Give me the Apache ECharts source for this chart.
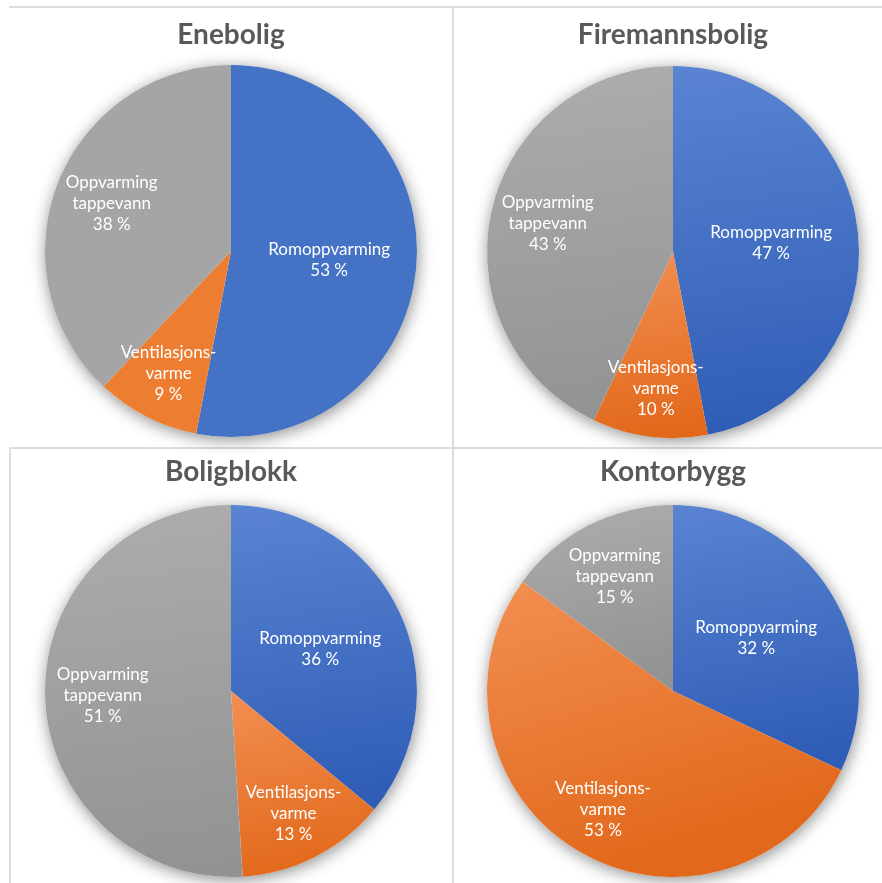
<!DOCTYPE html>
<html>
<head>
<meta charset="utf-8">
<title>Energibehov fordelt på formål</title>
<script src="https://cdn.jsdelivr.net/npm/echarts@6/dist/echarts.min.js"></script>
<style>
  html, body { margin: 0; padding: 0; background: #ffffff; }
  #chart { width: 882px; height: 883px; }
</style>
</head>
<body>
<div id="chart"></div>
<script>
// Energy use split by purpose, one pie per building type
const buildings = ['Enebolig', 'Firemannsbolig', 'Boligblokk', 'Kontorbygg'];
const categories = ['Romoppvarming', 'Ventilasjonsvarme', 'Oppvarming tappevann'];
const labelLines = ['Romoppvarming', 'Ventilasjons-\nvarme', 'Oppvarming\ntappevann'];

const enebolig = [53, 9, 38];
const firemannsbolig = [47, 10, 43];
const boligblokk = [36, 13, 51];
const kontorbygg = [32, 53, 15];

const seriesValues = [enebolig, firemannsbolig, boligblokk, kontorbygg];

// Layout of the 2x2 grid
const centers = [[231, 251], [673, 252], [231, 691], [673, 691]];
const titleTops = [21, 21, 458, 458];
const radius = 186;
// how far out (fraction of radius) each category's label sits
const labelRadius = [0.53, 0.74, 0.69];

const flatColors = ['#4472C4', '#ED7D31', '#A5A5A5'];
const gradStops = [
  ['#5A84D2', '#2F5DB6'],
  ['#F28F52', '#E2691C'],
  ['#ADADAD', '#939393']
];

function sliceColor(chartIdx, catIdx) {
  if (chartIdx === 0) return flatColors[catIdx];
  return {
    type: 'linear', x: 0, y: 0, x2: 0.25, y2: 1,
    colorStops: [
      { offset: 0, color: gradStops[catIdx][0] },
      { offset: 1, color: gradStops[catIdx][1] }
    ]
  };
}

const FONT = 'Lato, "Open Sans", sans-serif';

const titles = buildings.map((name, i) => ({
  text: name,
  left: centers[i][0],
  top: titleTops[i],
  padding: 0,
  textAlign: 'center',
  textStyle: { fontFamily: FONT, fontSize: 28, fontWeight: 'bold', color: '#595959' }
}));

const series = [];

// soft shadow disc behind each pie
centers.forEach((c) => {
  series.push({
    type: 'pie',
    silent: true,
    center: c,
    radius: radius,
    z: 1,
    label: { show: false },
    labelLine: { show: false },
    itemStyle: {
      color: '#ffffff',
      shadowBlur: 16,
      shadowColor: 'rgba(0,0,0,0.45)',
      shadowOffsetX: 1,
      shadowOffsetY: 3
    },
    emphasis: { disabled: true },
    data: [{ value: 1 }]
  });
});

seriesValues.forEach((vals, i) => {
  const total = vals.reduce((a, b) => a + b, 0);
  series.push({
    type: 'pie',
    name: buildings[i],
    center: centers[i],
    radius: radius,
    startAngle: 90,
    clockwise: true,
    z: 2,
    emphasis: { disabled: true },
    itemStyle: { borderWidth: 0 },
    label: {
      show: true,
      position: 'inside',
      fontFamily: FONT,
      fontSize: 17,
      lineHeight: 21,
      color: '#ffffff',
      align: 'center',
      formatter: (p) => labelLines[p.dataIndex] + '\n' + p.value + ' %'
    },
    labelLine: { show: false },
    labelLayout: (p) => {
      const k = p.dataIndex;
      let before = 0;
      for (let j = 0; j < k; j++) before += vals[j];
      const theta = (before + vals[k] / 2) / total * 2 * Math.PI;
      const f = labelRadius[k] * radius;
      return {
        x: centers[i][0] + Math.sin(theta) * f,
        y: centers[i][1] - Math.cos(theta) * f,
        align: 'center',
        verticalAlign: 'middle'
      };
    },
    data: vals.map((v, k) => ({
      name: categories[k],
      value: v,
      itemStyle: { color: sliceColor(i, k) }
    }))
  });
});

// frame lines between the panels
const lineStyle = { stroke: '#dddddd', lineWidth: 2 };
const graphic = [
  { type: 'line', shape: { x1: 9, y1: 7, x2: 882, y2: 7 }, style: lineStyle, silent: true },
  { type: 'line', shape: { x1: 9, y1: 448, x2: 882, y2: 448 }, style: lineStyle, silent: true },
  { type: 'line', shape: { x1: 453, y1: 7, x2: 453, y2: 883 }, style: lineStyle, silent: true },
  { type: 'line', shape: { x1: 10, y1: 448, x2: 10, y2: 883 }, style: lineStyle, silent: true }
];

const chart = echarts.init(document.getElementById('chart'), null, { renderer: 'canvas' });
chart.setOption({
  animation: false,
  backgroundColor: '#ffffff',
  title: titles,
  graphic: graphic,
  series: series
});
</script>
</body>
</html>
